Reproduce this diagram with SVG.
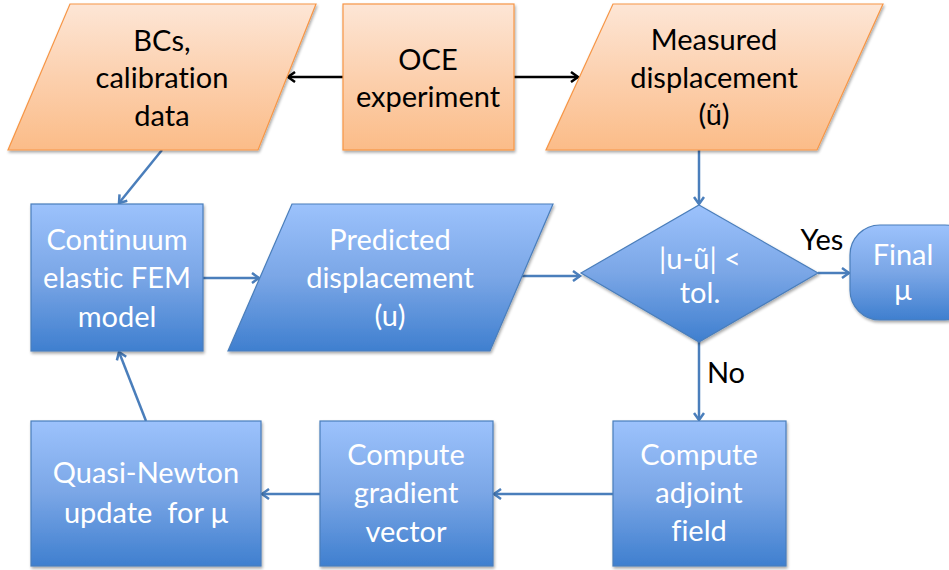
<svg xmlns="http://www.w3.org/2000/svg" width="949" height="570" viewBox="0 0 949 570">
<defs>
<linearGradient id="og" x1="0" y1="0" x2="0" y2="1">
<stop offset="0" stop-color="#fde6d6"/><stop offset="0.5" stop-color="#fcd0ae"/><stop offset="1" stop-color="#fbbc88"/>
</linearGradient>
<linearGradient id="bg" x1="0" y1="0" x2="0" y2="1">
<stop offset="0" stop-color="#9cc2fc"/><stop offset="0.5" stop-color="#7aa6e6"/><stop offset="1" stop-color="#3f7fcf"/>
</linearGradient>
<filter id="sh" x="-10%" y="-10%" width="130%" height="130%">
<feGaussianBlur in="SourceAlpha" stdDeviation="1.5"/>
<feOffset dx="1" dy="2" result="b"/>
<feComponentTransfer><feFuncA type="linear" slope="0.35"/></feComponentTransfer>
<feMerge><feMergeNode/><feMergeNode in="SourceGraphic"/></feMerge>
</filter>
<marker id="ab" markerWidth="12" markerHeight="12" refX="9" refY="6" orient="auto" markerUnits="userSpaceOnUse">
<path d="M2,1 L9,6 L2,11" fill="none" stroke="#4a7ebb" stroke-width="2.5"/>
</marker>
<marker id="ak" markerWidth="12" markerHeight="12" refX="9" refY="6" orient="auto" markerUnits="userSpaceOnUse">
<path d="M2,1 L9,6 L2,11" fill="none" stroke="#000" stroke-width="2.5"/>
</marker>
</defs>
<style>
.o{fill:url(#og);stroke:#f79646;stroke-width:1.2;filter:url(#sh)}
.b{fill:url(#bg);stroke:#4a7ebb;stroke-width:1.2;filter:url(#sh)}
text{font-family:Lato,"Open Sans","Liberation Sans",sans-serif;font-size:29px;text-anchor:middle;font-variant-ligatures:none;white-space:pre}
.k{fill:#000}
.w{fill:#fff}
.cb{stroke:#4a7ebb;stroke-width:2.5;fill:none;marker-end:url(#ab)}
.ck{stroke:#000;stroke-width:2.5;fill:none;marker-end:url(#ak)}
</style>
<g id="connectors">
<line class="ck" x1="343" y1="77" x2="288" y2="77"/>
<line class="ck" x1="514" y1="77" x2="578" y2="77"/>
<line class="cb" x1="162" y1="150" x2="119" y2="203"/>
<line class="cb" x1="203" y1="278" x2="259" y2="278"/>
<line class="cb" x1="521" y1="276" x2="580" y2="276"/>
<line class="cb" x1="699" y1="150" x2="699" y2="204"/>
<line class="cb" x1="818" y1="273" x2="849" y2="273"/>
<line class="cb" x1="699" y1="342" x2="699" y2="420"/>
<line class="cb" x1="613" y1="494" x2="494" y2="494"/>
<line class="cb" x1="320" y1="494" x2="262" y2="494"/>
<line class="cb" x1="146" y1="421" x2="119" y2="352"/>
<text class="k" x="822" y="250">Yes</text>
<text class="k" x="726" y="383">No</text>
</g>
<g id="bcs">
<polygon class="o" points="70,4 316,4 258,150 8,150"/>
<text class="k" x="162" y="51">BCs,</text>
<text class="k" x="162" y="88">calibration</text>
<text class="k" x="162" y="126">data</text>
</g>
<g id="oce">
<rect class="o" x="343" y="4" width="171" height="146"/>
<text class="k" x="428" y="70">OCE</text>
<text class="k" x="428" y="107">experiment</text>
</g>
<g id="measured">
<polygon class="o" points="613,4 883,4 817,150 546,150"/>
<text class="k" x="714" y="50">Measured</text>
<text class="k" x="714" y="88">displacement</text>
<text class="k" x="714" y="125">(ũ)</text>
</g>
<g id="fem">
<rect class="b" x="31" y="204" width="172" height="147"/>
<text class="w" x="117" y="250">Continuum</text>
<text class="w" x="117" y="288">elastic FEM</text>
<text class="w" x="117" y="327">model</text>
</g>
<g id="predicted">
<polygon class="b" points="292,204 553,204 490,351 228,351"/>
<text class="w" x="390" y="250">Predicted</text>
<text class="w" x="390" y="288">displacement</text>
<text class="w" x="390" y="326">(u)</text>
</g>
<g id="decision">
<polygon class="b" points="699,205 818,273 699,342 581,273"/>
<text class="w" x="700" y="269">|u-ũ| &lt;</text>
<text class="w" x="700" y="303">tol.</text>
</g>
<g id="final">
<rect class="b" x="850" y="225" width="125" height="95" rx="30" ry="30"/>
<text class="w" x="903" y="265">Final</text>
<text class="w" x="903" y="300">μ</text>
</g>
<g id="adjoint">
<rect class="b" x="613" y="421" width="173" height="145"/>
<text class="w" x="699" y="465">Compute</text>
<text class="w" x="699" y="503">adjoint</text>
<text class="w" x="699" y="541">field</text>
</g>
<g id="gradient">
<rect class="b" x="320" y="421" width="173" height="145"/>
<text class="w" x="406" y="465">Compute</text>
<text class="w" x="406" y="503">gradient</text>
<text class="w" x="406" y="542">vector</text>
</g>
<g id="quasi">
<rect class="b" x="31" y="421" width="230" height="145"/>
<text class="w" x="146" y="483">Quasi-Newton</text>
<text class="w" x="146" y="523">update  for μ</text>
</g>
</svg>
